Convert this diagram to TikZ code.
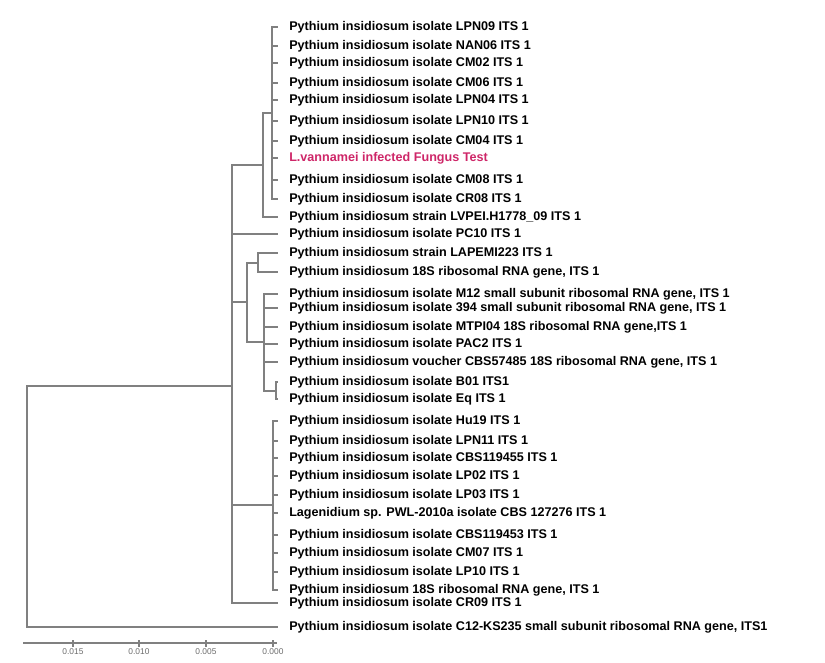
\documentclass[tikz,border=0pt]{standalone}
\usepackage{fontspec}
\setmainfont{Liberation Sans}
\usepackage{xcolor}
\usepackage{tikz}
\definecolor{branchgray}{RGB}{128,128,128}
\definecolor{testpink}{RGB}{206,38,104}

\begin{document}
\begin{tikzpicture}[x=0.75pt, y=-0.75pt,
        branch/.style={draw=branchgray, line width=1.3pt},
        axisline/.style={draw=branchgray, line width=0.8pt},
        leaflab/.style={anchor=west, inner sep=0pt, font=\bfseries\fontsize{9.45}{10}\selectfont},
        scalelab/.style={inner sep=0pt, text=gray!85!black, font=\fontsize{6.3}{7}\selectfont}]
        \useasboundingbox (0,0) rectangle (825,663);
        % the leaves: tip coordinates and labels
        \foreach \i/\y/\lab in {1/27/{Pythium insidiosum isolate LPN09 ITS 1},
                2/46/{Pythium insidiosum isolate NAN06 ITS 1},
                3/63/{Pythium insidiosum isolate CM02 ITS 1},
                4/83/{Pythium insidiosum isolate CM06 ITS 1},
                5/100/{Pythium insidiosum isolate LPN04 ITS 1},
                6/121/{Pythium insidiosum isolate LPN10 ITS 1},
                7/141/{Pythium insidiosum isolate CM04 ITS 1},
                8/158/{\color{testpink}L.vannamei infected Fungus Test},
                9/180/{Pythium insidiosum isolate CM08 ITS 1},
                10/199/{Pythium insidiosum isolate CR08 ITS 1},
                11/217/{Pythium insidiosum strain LVPEI.H1778\_09 ITS 1},
                12/234/{Pythium insidiosum isolate PC10 ITS 1},
                13/253/{Pythium insidiosum strain LAPEMI223 ITS 1},
                14/272/{Pythium insidiosum 18S ribosomal RNA gene, ITS 1},
                15/294/{Pythium insidiosum isolate M12 small subunit ribosomal RNA gene, ITS 1},
                16/308/{Pythium insidiosum isolate 394 small subunit ribosomal RNA gene, ITS 1},
                17/327/{Pythium insidiosum isolate MTPI04 18S ribosomal RNA gene,ITS 1},
                18/344/{Pythium insidiosum isolate PAC2 ITS 1},
                19/362/{Pythium insidiosum voucher CBS57485 18S ribosomal RNA gene, ITS 1},
                20/382/{Pythium insidiosum isolate B01 ITS1},
                21/399/{Pythium insidiosum isolate Eq ITS 1},
                22/421/{Pythium insidiosum isolate Hu19 ITS 1},
                23/441/{Pythium insidiosum isolate LPN11 ITS 1},
                24/458/{Pythium insidiosum isolate CBS119455 ITS 1},
                25/476/{Pythium insidiosum isolate LP02 ITS 1},
                26/495/{Pythium insidiosum isolate LP03 ITS 1},
                27/513/{Lagenidium sp. PWL-2010a isolate CBS 127276 ITS 1},
                28/535/{Pythium insidiosum isolate CBS119453 ITS 1},
                29/553/{Pythium insidiosum isolate CM07 ITS 1},
                30/572/{Pythium insidiosum isolate LP10 ITS 1},
                31/590/{Pythium insidiosum 18S ribosomal RNA gene, ITS 1},
                32/603/{Pythium insidiosum isolate CR09 ITS 1},
                33/627/{Pythium insidiosum isolate C12-KS235 small subunit ribosomal RNA gene, ITS1}}
        {
            \coordinate (t\i) at (278,\y);
            \node[leaflab] (l\i) at (289,\y) {\lab};
        }
        % the inner nodes
        \coordinate (nA) at (272,113);
        \coordinate (nB) at (263,165);
        \coordinate (nC) at (258,263);
        \coordinate (nD) at (276,391);
        \coordinate (nE) at (264,342);
        \coordinate (nF) at (247,302);
        \coordinate (nG) at (273,505);
        \coordinate (nH) at (232,386);
        \coordinate (root) at (27,507);
        % the branches, parent -> children
        \foreach \c in {1,...,10}
            \draw[branch] (nA) |- (t\c);
        \foreach \c in {nA,t11}
            \draw[branch] (nB) |- (\c);
        \foreach \c in {t13,t14}
            \draw[branch] (nC) |- (\c);
        \foreach \c in {t20,t21}
            \draw[branch] (nD) |- (\c);
        \foreach \c in {t15,t16,t17,t18,t19,nD}
            \draw[branch] (nE) |- (\c);
        \foreach \c in {nC,nE}
            \draw[branch] (nF) |- (\c);
        \foreach \c in {22,...,31}
            \draw[branch] (nG) |- (t\c);
        \foreach \c in {nB,t12,nF,nG,t32}
            \draw[branch] (nH) |- (\c);
        \foreach \c in {nH,t33}
            \draw[branch] (root) |- (\c);
        % scale bar
        \draw[axisline] (23,643) -- (277,643);
        \foreach \x/\lab [count=\k] in {73/0.015, 139/0.010, 206/0.005, 273/0.000}
        {
            \draw[axisline] (\x,640) -- (\x,647);
            \node[scalelab] (s\k) at (\x,652) {\lab};
        }
\end{tikzpicture}
\end{document}
